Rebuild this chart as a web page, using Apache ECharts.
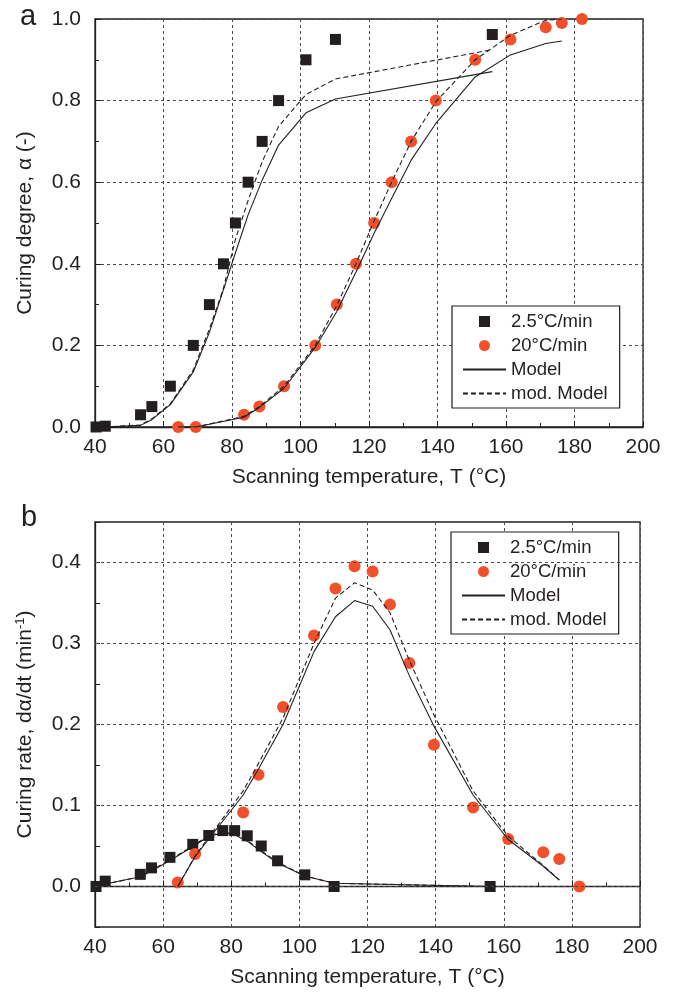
<!DOCTYPE html>
<html>
<head>
<meta charset="utf-8">
<script src="https://cdn.jsdelivr.net/npm/echarts@6/dist/echarts.min.js"></script>
<style>
html,body{margin:0;padding:0;background:#fff;}
#chart{width:675px;height:993px;}
</style>
</head>
<body>
<div id="chart"></div>
<script>
// Temperatures (°C) of the measurement points
const T25 = [40.3, 43, 53.3, 56.6, 62, 68.7, 73.4, 77.5, 81, 84.7, 88.8, 93.6, 101.6, 110.2, 156];
const T20 = [64.3, 69.4, 83.5, 88, 95.2, 104.3, 110.6, 116.2, 121.5, 126.6, 132.3, 139.5, 151, 161.3, 171.6, 176.3, 182.2];
const T20model = [64.3, 69.4, 83.5, 88, 95.2, 104.3, 110.6, 116.2, 121.5, 126.6, 132.3, 139.5, 151, 161.3, 171.6, 176.3];

// Panel a: curing degree
const alpha25 = [0, 0.002, 0.03, 0.05, 0.1, 0.2, 0.3, 0.4, 0.5, 0.6, 0.7, 0.8, 0.9, 0.95, 0.962];
const alpha20 = [0, 0, 0.03, 0.05, 0.1, 0.2, 0.3, 0.4, 0.5, 0.6, 0.7, 0.8, 0.9, 0.95, 0.98, 0.99, 1.0];
const alpha25Model = [0, 0, 0.004, 0.018, 0.055, 0.135, 0.232, 0.336, 0.427, 0.52, 0.605, 0.691, 0.77, 0.804, 0.871];
const alpha25Mod = [0, 0, 0.005, 0.02, 0.057, 0.14, 0.24, 0.34, 0.46, 0.555, 0.65, 0.737, 0.815, 0.853, 0.925];
const alpha20Model = [0, 0, 0.024, 0.048, 0.095, 0.195, 0.283, 0.38, 0.475, 0.56, 0.654, 0.744, 0.858, 0.912, 0.94, 0.946];
const alpha20Mod = [0, 0, 0.026, 0.05, 0.1, 0.2, 0.298, 0.4, 0.505, 0.6, 0.7, 0.797, 0.9, 0.96, 0.997, 1.0];

// Panel b: curing rate
const rate25 = [0.0, 0.0066, 0.015, 0.023, 0.036, 0.052, 0.063, 0.069, 0.069, 0.0626, 0.050, 0.0317, 0.0144, 0.0, 0.0];
const rate20 = [0.005, 0.040, 0.0914, 0.138, 0.2215, 0.31, 0.368, 0.3955, 0.389, 0.348, 0.276, 0.175, 0.0976, 0.0585, 0.0424, 0.034, 0.0];
const rate25Model = [0, 0.003, 0.012, 0.019, 0.032, 0.049, 0.062, 0.066, 0.064, 0.056, 0.043, 0.029, 0.013, 0.004, 0.0];
const rate25Mod = [0, 0.003, 0.012, 0.02, 0.033, 0.05, 0.063, 0.067, 0.065, 0.057, 0.044, 0.03, 0.013, 0.004, 0.0];
const rate20Model = [0, 0.037, 0.113, 0.145, 0.2, 0.29, 0.333, 0.353, 0.346, 0.317, 0.26, 0.198, 0.113, 0.058, 0.025, 0.008];
const rate20Mod = [0, 0.038, 0.118, 0.152, 0.208, 0.30, 0.356, 0.375, 0.366, 0.338, 0.279, 0.212, 0.118, 0.062, 0.026, 0.008];

// Axis ticks
const xTicks = [40, 60, 80, 100, 120, 140, 160, 180, 200];
const rateGrid = [0, 0.1, 0.2, 0.3, 0.4];
const legendNames = ['2.5°C/min', '20°C/min', 'Model', 'mod. Model'];

const FONT = '"Liberation Sans", Arial, Helvetica, sans-serif';
const INK = '#231f20';
const RED = '#f0502a';
const GRIDC = '#4a4a4a';
const FS = 21;

function pairs(xs, ys) { return xs.map((x, i) => [x, ys[i]]); }

function xAxisCfg(i) {
  return {
    type: 'value', gridIndex: i, min: xTicks[0], max: xTicks[xTicks.length - 1], interval: 20,
    axisLine: { show: true, lineStyle: { color: INK, width: 1.3 } },
    axisTick: { show: true, inside: true, length: 6, lineStyle: { color: INK, width: 1 } },
    minorTick: { show: true, splitNumber: 2, length: 4, lineStyle: { color: INK, width: 1 } },
    axisLabel: { fontSize: FS, color: INK, margin: 10, fontFamily: FONT },
    splitLine: { show: true, lineStyle: { color: GRIDC, type: [3, 3], width: 1 } },
    name: 'Scanning temperature, T (°C)', nameLocation: 'middle', nameGap: 40,
    nameTextStyle: { fontSize: FS, color: INK, fontFamily: FONT }
  };
}

function scatter(name, xs, ys, gi, sym, size, color) {
  return {
    type: 'scatter', name: name, xAxisIndex: gi, yAxisIndex: gi,
    data: pairs(xs, ys), symbol: sym, symbolSize: size,
    itemStyle: { color: color, opacity: 1 }, z: 3
  };
}
function line(name, xs, ys, gi, dashed) {
  return {
    type: 'line', name: name, xAxisIndex: gi, yAxisIndex: gi,
    data: pairs(xs, ys), symbol: 'none', showSymbol: false,
    lineStyle: { color: INK, width: 1.1, type: dashed ? [5, 3] : 'solid', opacity: 1 },
    itemStyle: { color: INK, opacity: 0 }, z: 4
  };
}
function legendCfg(left, top) {
  return {
    left: left, top: top, orient: 'vertical',
    data: [
      { name: legendNames[0], icon: 'path://M0,0H10V10H0Z' },
      { name: legendNames[1], icon: 'circle' },
      { name: legendNames[2], itemStyle: { opacity: 0 } },
      { name: legendNames[3], itemStyle: { opacity: 0 } }
    ],
    itemWidth: 43, itemHeight: 11, itemGap: 5,
    padding: [6, 12, 5, 10],
    borderColor: INK, borderWidth: 1.2, backgroundColor: '#fff',
    textStyle: { fontSize: 18.5, color: INK, fontFamily: FONT, lineHeight: 18.5 },
    selectedMode: false
  };
}

const chart = echarts.init(document.getElementById('chart'), null, { renderer: 'canvas' });
const option = {
  animation: false,
  backgroundColor: '#fff',
  textStyle: { fontFamily: FONT },
  grid: [
    { left: 95, top: 19, width: 548, height: 408, show: true, borderColor: INK, borderWidth: 1.3, backgroundColor: 'transparent' },
    { left: 95, top: 522, width: 545, height: 405, show: true, borderColor: INK, borderWidth: 1.3, backgroundColor: 'transparent' }
  ],
  graphic: [
    { type: 'text', left: 20, top: 2, style: { text: 'a', font: '29px ' + FONT, fill: INK } },
    { type: 'text', left: 21, top: 503, style: { text: 'b', font: '29px ' + FONT, fill: INK } }
  ],
  legend: [legendCfg(452, 306), legendCfg(451, 532)],
  xAxis: [xAxisCfg(0), xAxisCfg(1)],
  yAxis: [
    {
      type: 'value', gridIndex: 0, min: 0, max: 1, interval: 0.2,
      axisLine: { show: true, lineStyle: { color: INK, width: 1.3 } },
      axisTick: { show: true, inside: true, length: 6, lineStyle: { color: INK } },
      minorTick: { show: true, splitNumber: 2, length: 4, lineStyle: { color: INK } },
      axisLabel: { fontSize: FS, color: INK, margin: 14, fontFamily: FONT, formatter: v => v.toFixed(1) },
      splitLine: { show: true, lineStyle: { color: GRIDC, type: [3, 3], width: 1 } },
      name: 'Curing degree, α (-)', nameLocation: 'middle', nameGap: 59,
      nameTextStyle: { fontSize: FS, color: INK, fontFamily: FONT }
    },
    {
      type: 'value', gridIndex: 1, min: -0.05, max: 0.45, interval: 0.05,
      axisLine: { show: true, lineStyle: { color: INK, width: 1.3 } },
      axisTick: { show: true, inside: true, length: 5, lineStyle: { color: INK } },
      axisLabel: {
        fontSize: FS, color: INK, margin: 14, fontFamily: FONT,
        formatter: v => {
          const k = Math.round(v * 20);
          return (k >= 0 && k <= 8 && k % 2 === 0) ? (k / 20).toFixed(1) : '';
        }
      },
      splitLine: { show: false },
      name: 'Curing rate, dα/dt (min{sup|-1})', nameLocation: 'middle', nameGap: 58,
      nameTextStyle: {
        fontSize: FS, color: INK, fontFamily: FONT,
        rich: { sup: { fontSize: 13, color: INK, fontFamily: FONT, padding: [0, 0, 10, 0] } }
      }
    }
  ],
  series: [
    // grid lines of panel b (y direction)
    {
      type: 'line', xAxisIndex: 1, yAxisIndex: 1, data: [], silent: true, z: 1,
      markLine: {
        silent: true, symbol: 'none', label: { show: false }, animation: false,
        lineStyle: { color: GRIDC, type: [3, 3], width: 1 },
        data: rateGrid.map(v => ({ yAxis: v }))
      }
    },
    scatter('2.5°C/min', T25, alpha25, 0, 'rect', 11, INK),
    scatter('20°C/min', T20, alpha20, 0, 'circle', 12, RED),
    line('Model', T25, alpha25Model, 0, false),
    line('mod. Model', T25, alpha25Mod, 0, true),
    line('Model', T20model, alpha20Model, 0, false),
    line('mod. Model', T20model, alpha20Mod, 0, true),

    scatter('2.5°C/min', T25, rate25, 1, 'rect', 11, INK),
    scatter('20°C/min', T20, rate20, 1, 'circle', 12, RED),
    line('Model', T25, rate25Model, 1, false),
    line('mod. Model', T25, rate25Mod, 1, true),
    line('Model', T20model, rate20Model, 1, false),
    line('mod. Model', T20model, rate20Mod, 1, true)
  ]
};
chart.setOption(option);
</script>
</body>
</html>
